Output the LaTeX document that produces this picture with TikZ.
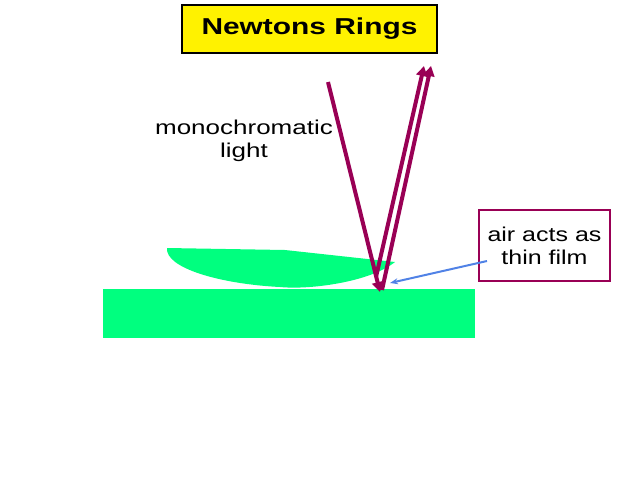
\documentclass[tikz,border=0pt]{standalone}
\usepackage{fontspec}
\setmainfont{Liberation Sans}
\usetikzlibrary{arrows.meta}
\newcommand{\wide}[2]{\scalebox{#1}[1]{#2}}
\begin{document}
\begin{tikzpicture}[x=1pt,y=-1pt,
  ray/.style={draw=ray,line width=4pt,-{Triangle[length=10pt,width=11pt]}},
  lbl/.style={font=\fontsize{20}{23}\selectfont,align=center}]
\definecolor{ray}{HTML}{990055}
\definecolor{glass}{HTML}{00FF7F}
\useasboundingbox (0,0) rectangle (640,480);
\fill[glass] (103,289) rectangle (475,338);
\fill[glass] (167,248) -- (285,250) -- (395,262) .. controls (370,282) and (310,290) .. (280,287) .. controls (220,284) and (165,268) .. (167,248) -- cycle;
\node[draw=black,line width=1.2pt,fill=yellow,minimum width=255pt,minimum height=48pt,font=\fontsize{23}{26}\selectfont\bfseries] (title) at (309.5,29) {\wide{1.3}{Newtons Rings}};
\node[lbl] (mono) at (244,141) {\wide{1.3}{monochromatic}\\\wide{1.3}{light}};
\node[lbl,draw=ray,line width=1.5pt,minimum width=131pt,minimum height=71pt] (film) at (544.5,245.5) {\wide{1.25}{air acts as}\\\wide{1.25}{thin film}};
\coordinate (i0) at (328,82);
\coordinate (i1) at (380,292);
\coordinate (r0a) at (376,277);
\coordinate (r1a) at (424,66);
\coordinate (r0b) at (382,290);
\coordinate (r1b) at (431,66);
\coordinate (gap) at (390,283);
\coordinate (fs) at (487,261);
\draw[ray] (i0) -- (i1);
\draw[ray] (r0a) -- (r1a);
\draw[ray] (r0b) -- (r1b);
\draw[draw={rgb,255:red,80;green,130;blue,230},line width=2pt,-{Stealth[length=8pt]}] (fs) -- (gap);
\end{tikzpicture}
\end{document}
